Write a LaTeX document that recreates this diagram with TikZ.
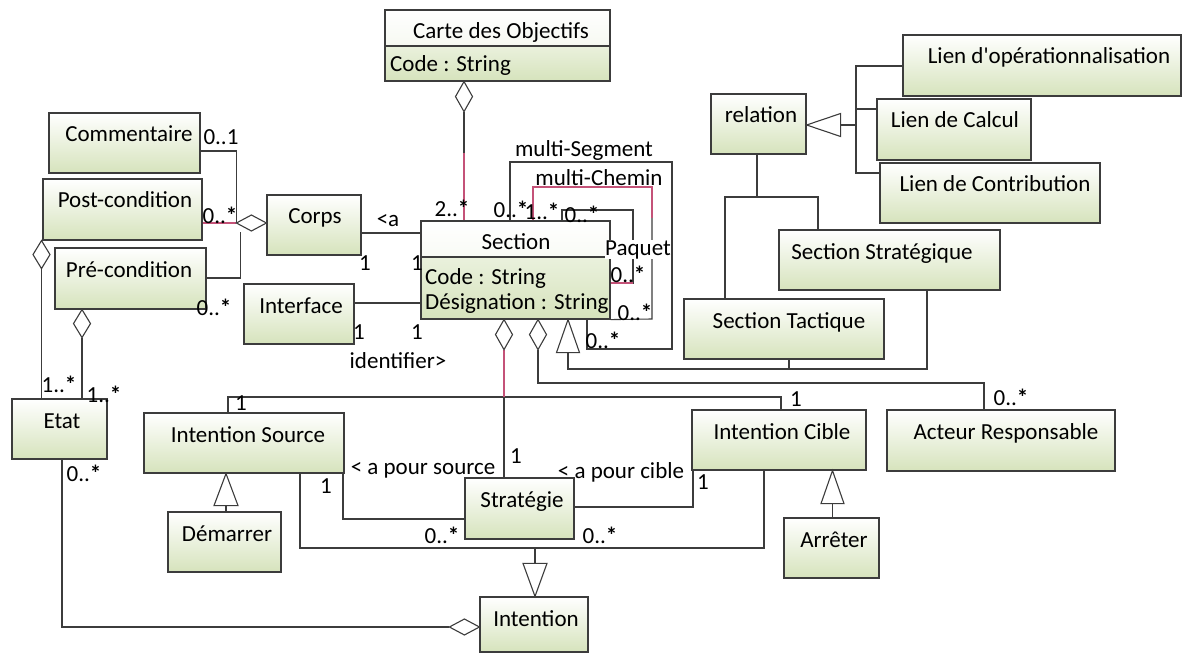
\documentclass[tikz,border=0pt]{standalone}
\usepackage{fontspec}
\setmainfont{Carlito}
\usetikzlibrary{calc}
\definecolor{gbot}{RGB}{214,227,188}
\definecolor{gmid}{RGB}{234,241,221}
\definecolor{ghd}{RGB}{238,243,228}
\definecolor{ln}{RGB}{60,60,60}
\definecolor{rd}{RGB}{196,82,120}
\newcommand\umlbox[7]{%
  \node[box, minimum width={(#4-#2)*1pt}, minimum height={(#5-#3)*1pt}] (#1) at ({(#2+#4)/2},{(#3+#5)/2}) {};
  \node[nm] (#1-t) at (#6,{#3+29}) {#7};
}
\newcommand\lbl[4]{\node[nm] (#1) at (#2,#3) {#4};}
\newcommand\mstar{\textbf{*}}
\begin{document}
\begin{tikzpicture}[x=1pt,y=-1pt,
  box/.style={draw=ln, line width=1.2pt, top color=white, bottom color=gbot, inner sep=0pt, rectangle},
  nm/.style={font=\fontsize{23}{27}\selectfont, inner sep=0pt, anchor=base},
  con/.style={draw=ln, line width=1.1pt},
  hol/.style={con, fill=white, line join=miter}]
\useasboundingbox (0,0) rectangle (1189,655);

% ---------- boxes
\umlbox{comm}{49}{113}{200}{173}{129}{Commentaire}
\umlbox{post}{43}{179}{202}{240}{125}{Post-condition}
\umlbox{pre}{55}{248}{206}{309}{129}{Pré-condition}
\umlbox{corps}{267}{195}{361}{255}{315}{Corps}
\umlbox{iface}{244}{284}{354}{344}{301}{Interface}
\umlbox{rel}{711}{94}{806}{154}{761}{relation}
\umlbox{lop}{903}{35}{1181}{96}{1049}{Lien d\textquotesingle opérationnalisation}
\umlbox{lcal}{877}{99}{1031}{160}{955}{Lien de Calcul}
\umlbox{lcon}{880}{163}{1100}{223}{995}{Lien de Contribution}
\umlbox{sstrat}{779}{230}{1000}{290}{882}{Section Stratégique}
\umlbox{stact}{684}{299}{884}{359}{789}{Section Tactique}
\umlbox{etat}{12}{399}{107}{459}{62}{Etat}
\umlbox{isrc}{144}{413}{344}{473}{248}{Intention Source}
\umlbox{dem}{168}{512}{281}{572}{227}{Démarrer}
\umlbox{strat}{465}{478}{574}{539}{522}{Stratégie}
\umlbox{inten}{480}{597}{588}{652}{536}{Intention}
\umlbox{icib}{692}{410}{866}{470}{782}{Intention Cible}
\umlbox{arr}{784}{518}{879}{578}{834}{Arrêter}
\umlbox{act}{887}{410}{1115}{471}{1006}{Acteur Responsable}

% Carte des Objectifs (two compartments)
\node[box, top color=white, bottom color=ghd, minimum width=225pt, minimum height=71pt] (carte) at (497.5,45.5) {};
\node[box, top color=gmid, bottom color=gbot, minimum width=225pt, minimum height=35pt] (carte-c) at (497.5,63.5) {};
\node[nm] (carte-t) at (501,39) {Carte des Objectifs};
\node[nm, anchor=base west] (carte-a) at (390,72) {Code : String};

% Section (two compartments)
\node[box, top color=white, bottom color=ghd, minimum width=189pt, minimum height=98pt] (sec) at (515.5,270) {};
\node[box, top color=gmid, bottom color=gbot, minimum width=189pt, minimum height=62pt] (sec-c) at (515.5,288) {};
\node[nm] (sec-t) at (516,250) {Section};
\node[nm, anchor=base west] (sec-a1) at (425,284) {Code : String};
\node[nm, anchor=base west] (sec-a2) at (425,309) {Désignation : String};

% ---------- connectors
% Carte - Section
\coordinate (d1) at (carte.south -| 464,0);
\draw[con] ([yshift=-30pt]d1) -- (sec.north -| d1);
\draw[con, draw=rd] ([yshift=-71pt]d1) -- (sec.north -| d1);
\draw[hol] (d1) -- ++(8.5,15) -- ++(-8.5,15) -- ++(-8.5,-15) -- cycle;

% Corps aggregation
\coordinate (d2) at (corps.west |- 0,223);
\coordinate (d2l) at ([xshift=-30pt]d2);
\draw[con] (comm.east |- 0,151) -| (d2l);
\draw[con, draw=rd] (post.east |- d2l) -- (d2l);
\draw[con] (pre.east |- 0,278) -| ([xshift=4pt,yshift=-9pt]d2l);
\draw[hol] (d2) -- ++(-15,-8) -- ++(-15,8) -- ++(15,8) -- cycle;

% Corps - Section, Interface - Section
\draw[con] (corps.east |- 0,233) -- (sec.west |- 0,233);
\draw[con] (iface.east |- 0,303) -- (sec.west |- 0,303);

% Post-condition - Etat
\coordinate (d5) at (post.south -| 41.5,0);
\draw[con] ([yshift=-28pt]d5) -- (etat.north -| d5);
\draw[hol] (d5) -- ++(8.5,14) -- ++(-8.5,14) -- ++(-8.5,-14) -- cycle;
% Pre-condition - Etat
\coordinate (d6) at (pre.south -| 82,0);
\draw[con] ([yshift=-28pt]d6) -- (etat.north -| d6);
\draw[hol] (d6) -- ++(8.5,14) -- ++(-8.5,14) -- ++(-8.5,-14) -- cycle;

% Etat - Intention
\coordinate (d7) at (inten.west |- 0,627);
\draw[con] (etat.south -| 62,0) |- ([xshift=-30pt]d7);
\draw[hol] (d7) -- ++(-15,-8) -- ++(-15,8) -- ++(15,8) -- cycle;

% Section aggregation: Intention Source, Strategie, Intention Cible
\coordinate (d8) at (sec.south -| 504,0);
\coordinate (j8) at (504,397);
\draw[con] (isrc.north -| 228,0) |- (j8) -| (icib.north -| 781,0);
\draw[con] ([yshift=-30pt]d8) -- (strat.north -| d8);
\draw[con, draw=rd] ([yshift=-30pt]d8) -- (j8);
\draw[hol] (d8) -- ++(8.5,15) -- ++(-8.5,15) -- ++(-8.5,-15) -- cycle;

% Section - Acteur Responsable
\coordinate (d9) at (sec.south -| 538,0);
\coordinate (k9) at (984,383);
\draw[con] ([yshift=-30pt]d9) |- (k9) -- (act.north -| k9);
\draw[hol] (d9) -- ++(8.5,15) -- ++(-8.5,15) -- ++(-8.5,-15) -- cycle;

% generalization to Section
\coordinate (t10) at (sec.south -| 568,0);
\coordinate (k10) at (927,369);
\draw[con] ([yshift=-33pt]t10) |- (k10) -- (sstrat.south -| k10);
\draw[con] (stact.south -| 789,0) -- (k10 -| 789,0);
\draw[hol] (t10) -- ++(11.5,33) -- ++(-23,0) -- cycle;

% relation - Section Tactique / Strategique
\coordinate (j11) at (757,197);
\draw[con] (rel.south -| j11) -- (j11);
\draw[con] (stact.north -| 725,0) |- (j11) -| (sstrat.north -| 818,0);

% Lien generalization to relation
\coordinate (t12) at (rel.east |- 0,125);
\coordinate (j12) at (856,125);
\draw[con] ([xshift=34pt]t12) -- (j12);
\draw[con] (lop.west |- 0,66) -| (j12);
\draw[con] (lcal.west |- 0,109) -| (j12);
\draw[con] (lcon.west |- 0,173) -| (j12);
\draw[hol] (t12) -- ++(34,-11.5) -- ++(0,23) -- cycle;

% self loops on Section
\draw[con] (sec.north -| 510,0) |- (672,162) -- (672,349) -| (sec.south -| 587,0);
\draw[con] (sec.north -| 533,0) |- (652,187) -- (652,319) -- (sec.south east);
\draw[con, draw=rd] (sec.north -| 533,0) |- (652,187) -- (652,218);
\draw[con] (sec.north -| 562,0) |- (633,210) -- (633,283) -- (sec.east |- 0,283);
\draw[con, draw=rd] (633,283) -- (sec.east |- 0,283);

% Intention Source - Strategie, Strategie - Intention Cible
\draw[con] (isrc.south -| 343,0) |- (strat.west |- 0,519);
\draw[con] (strat.east |- 0,507) -| (icib.south -| 693,0);

% generalization to Intention
\coordinate (j16) at (535,548);
\draw[con] (isrc.south -| 300,0) |- (j16) -| (icib.south -| 764,0);
\coordinate (t16) at (inten.north -| j16);
\draw[con] (j16) -- ([yshift=33pt]t16);
\draw[hol] (t16) -- ++(-12,-33) -- ++(24,0) -- cycle;

% Demarrer, Arreter
\coordinate (t17) at (isrc.south -| 226,0);
\draw[con] ([yshift=-32pt]t17) -- (dem.north -| t17);
\draw[hol] (t17) -- ++(12,32) -- ++(-24,0) -- cycle;
\coordinate (t18) at (icib.south -| 832.5,0);
\draw[con] ([yshift=-33pt]t18) -- (arr.north -| t18);
\draw[hol] (t18) -- ++(11.5,33) -- ++(-23,0) -- cycle;

% ---------- labels
\lbl{m1}{452}{217}{2..\mstar}
\lbl{m2}{221}{145}{0..1}
\lbl{m3}{220}{224}{0..\mstar}
\lbl{m4}{214}{315}{0..\mstar}
\lbl{m5}{388}{227}{<a}
\lbl{m6}{365}{271}{1}
\lbl{m7}{417}{271}{1}
\lbl{m8}{359}{339}{1}
\lbl{m9}{417}{339}{1}
\lbl{m10}{398}{368}{identifier>}
\lbl{m11}{59}{392}{1..\mstar}
\lbl{m12}{104}{402}{1..\mstar}
\lbl{m13}{84}{481}{0..\mstar}
\lbl{m14}{241}{410}{1}
\lbl{m15}{326}{493}{1}
\lbl{m16}{423}{474}{< a pour source}
\lbl{m17}{442}{543}{0..\mstar}
\lbl{m18}{600}{543}{0..\mstar}
\lbl{m19}{516}{463}{1}
\lbl{m20}{621}{478}{< a pour cible}
\lbl{m21}{703}{489}{1}
\lbl{m22}{796}{406}{1}
\lbl{m23}{1011}{405}{0..\mstar}
\lbl{m24}{584}{157}{multi-Segment}
\lbl{m25}{599}{186}{multi-Chemin}
\lbl{m26}{511}{218}{0..\mstar}
\lbl{m27}{542}{220}{1..\mstar}
\lbl{m28}{582}{223}{0..\mstar}
\node[nm, fill=white] (m29) at (638,255) {Paquet};
\lbl{m30}{628}{283}{0..\mstar}
\lbl{m31}{635}{320}{0..\mstar}
\lbl{m32}{603}{348}{0..\mstar}
\end{tikzpicture}
\end{document}
